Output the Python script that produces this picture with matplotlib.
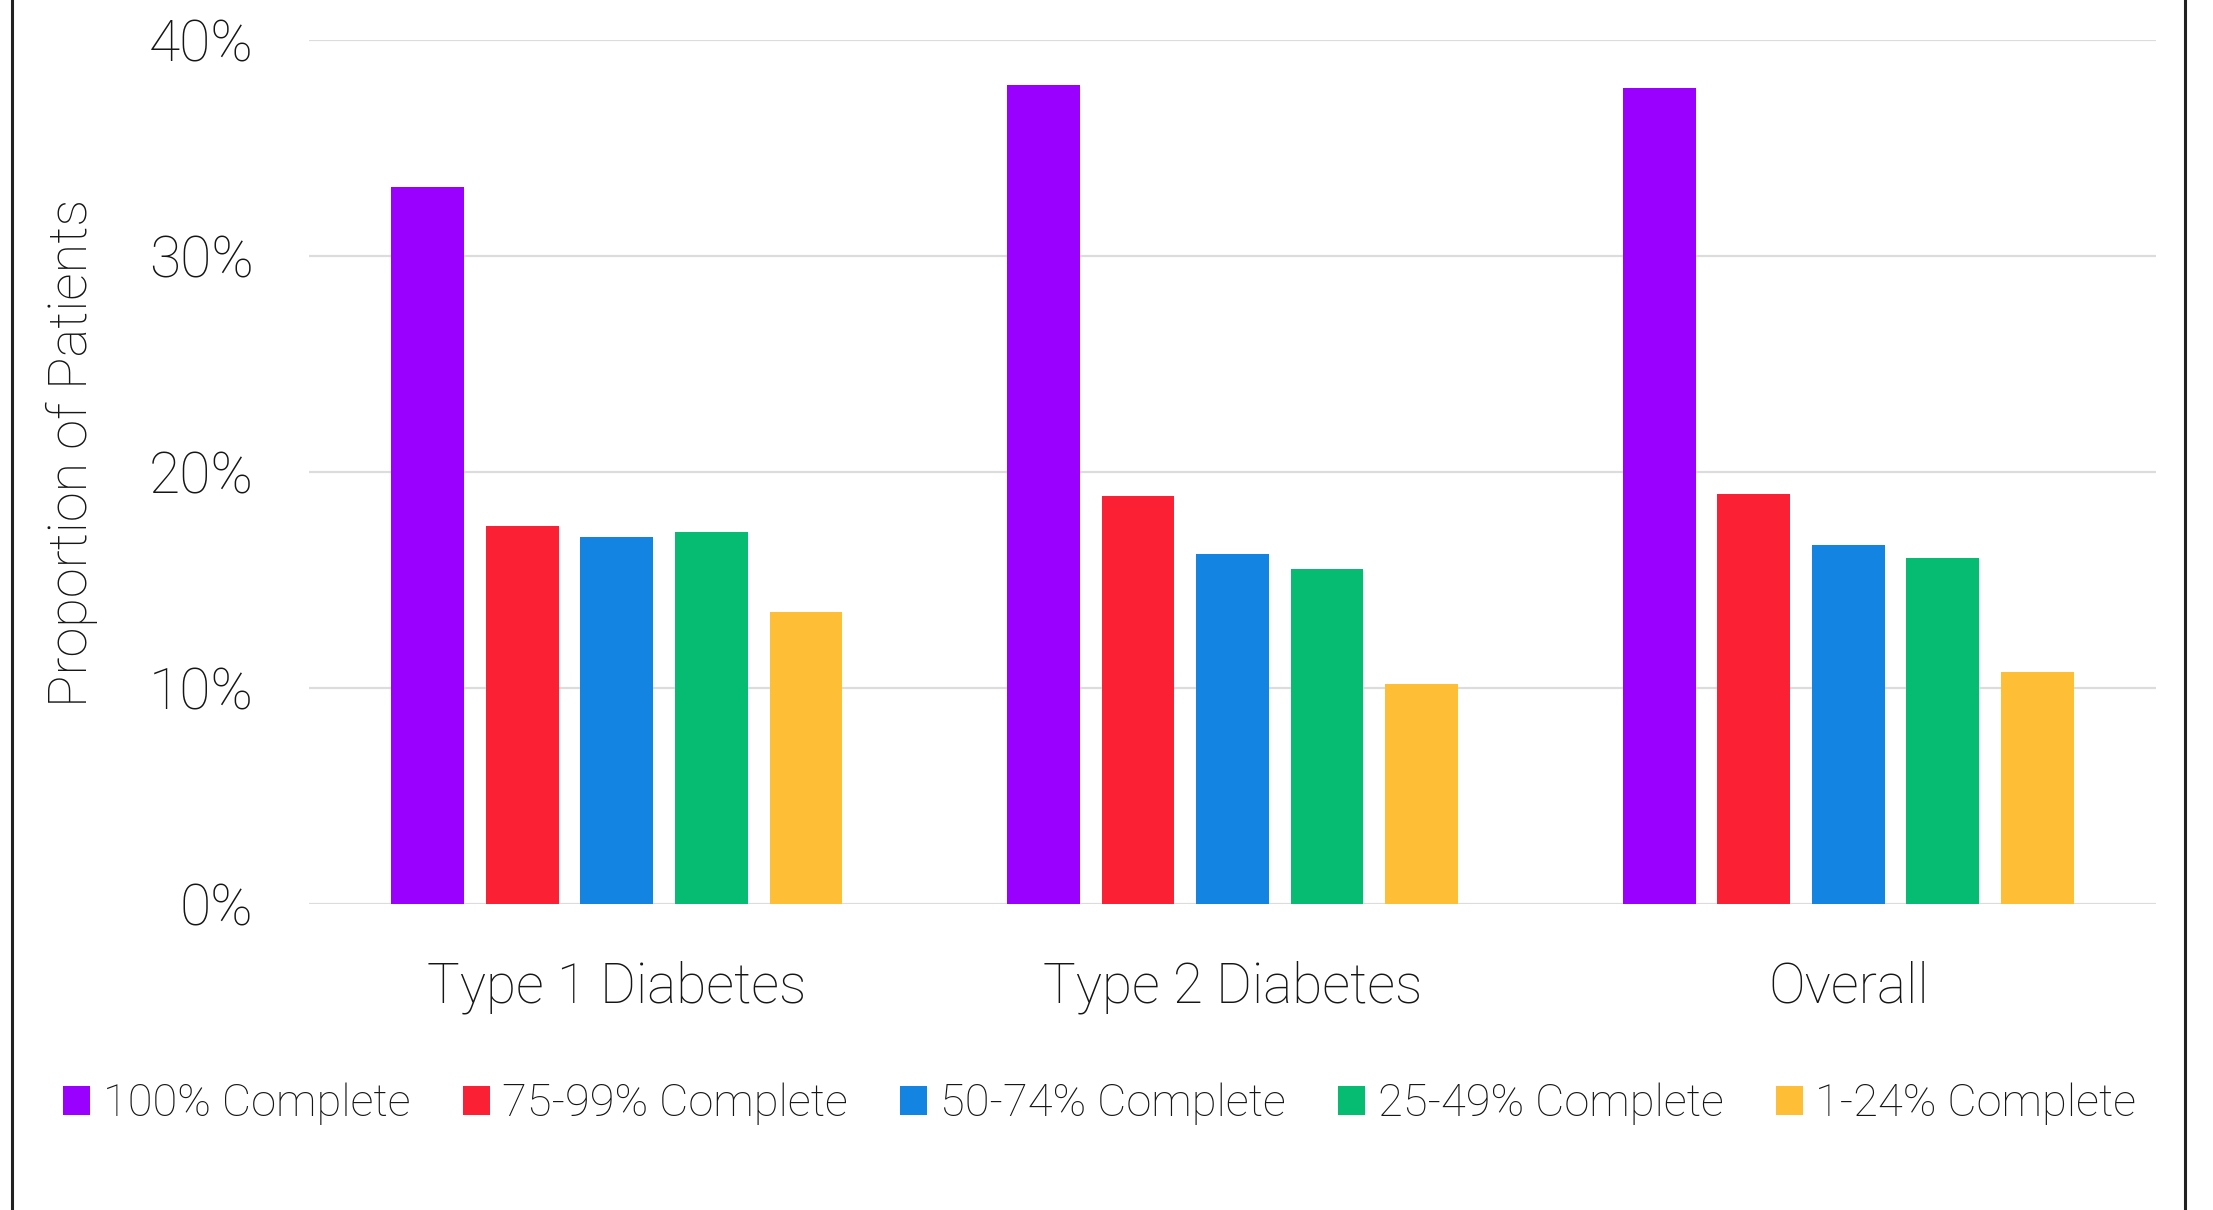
import matplotlib
matplotlib.use('Agg')
import matplotlib.pyplot as plt
import numpy as np
from matplotlib.lines import Line2D
from matplotlib.ticker import PercentFormatter

categories = ['Type 1 Diabetes', 'Type 2 Diabetes', 'Overall']
series = ['100% Complete', '75-99% Complete', '50-74% Complete', '25-49% Complete', '1-24% Complete']
complete_100 = [33.2, 37.9, 37.8]
complete_75_99 = [17.5, 18.9, 19.0]
complete_50_74 = [17.0, 16.2, 16.6]
complete_25_49 = [17.2, 15.5, 16.0]
complete_1_24 = [13.5, 10.2, 10.75]
colors = ['#9900FF', '#FB2034', '#1484E2', '#06BC72', '#FEBF37']

plt.rcParams['font.family'] = ['Roboto', 'DejaVu Sans']
plt.rcParams['font.weight'] = 'light'
text_color = '#161616'

fig = plt.figure(figsize=(22.13, 12.10), dpi=100)
ax = fig.add_axes([0.1396, 0.2529, 0.8347, 0.7140])

values = [complete_100, complete_75_99, complete_50_74, complete_25_49, complete_1_24]
x = np.arange(len(categories))
w = 0.118
step = 0.1535
for i, (vals, name, c) in enumerate(zip(values, series, colors)):
    ax.bar(x + (i - 2) * step, vals, w, color=c, label=name, zorder=3)

ax.set_xlim(-0.5, 2.5)
ax.set_ylim(0, 40)
ax.set_yticks([0, 10, 20, 30, 40])
ax.yaxis.set_major_formatter(PercentFormatter(decimals=0))
ax.grid(axis='y', color='#dcdcdc', linewidth=1.6, zorder=0)
ax.set_axisbelow(True)
for s in ax.spines.values():
    s.set_visible(False)
ax.tick_params(length=0, labelcolor=text_color)
ax.tick_params(axis='y', pad=40, labelsize=41)
ax.tick_params(axis='x', pad=41, labelsize=39.5)
ax.set_xticks(x)
ax.set_xticklabels(categories)

ax.set_ylabel('Proportion of Patients', fontsize=39, color=text_color, va='center',
              fontweight='light')
ax.yaxis.set_label_coords(-0.1283, 0.522)

leg = fig.legend(loc='center', bbox_to_anchor=(0.497, 0.0876), ncol=5, frameon=False,
                 fontsize=32.6, handlelength=0.6, handleheight=0.6, handletextpad=0.28,
                 columnspacing=1.15, labelcolor=text_color)

# outer frame lines left and right
fig.add_artist(Line2D([12 / 2213, 12 / 2213], [0, 1], color='#222222', linewidth=2.2))
fig.add_artist(Line2D([2185 / 2213, 2185 / 2213], [0, 1], color='#222222', linewidth=2.2))

fig.savefig('out.png', dpi=100)
